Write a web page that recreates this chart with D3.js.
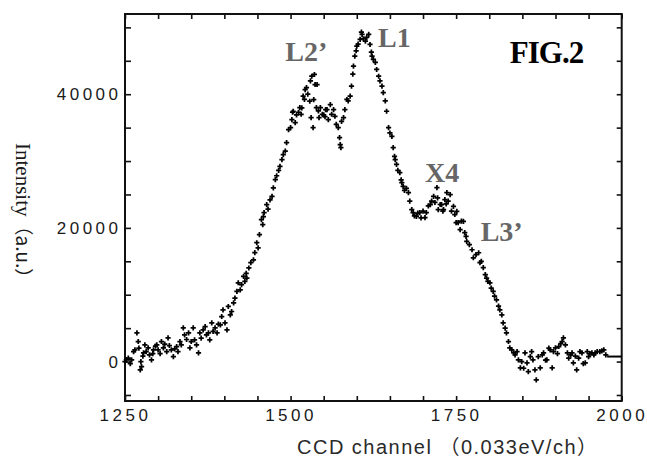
<!DOCTYPE html>
<html>
<head>
<meta charset="utf-8">
<script src="https://cdn.jsdelivr.net/npm/d3@7"></script>
<style>
    html, body { margin: 0; padding: 0; background: #fff; }
    svg { display: block; }
    .tick-label { font-family: "Liberation Sans", Arial, sans-serif; font-size: 17px; fill: #1a1a1a; letter-spacing: 3.5px; }
    .peak { font-family: "Liberation Serif", "Times New Roman", serif; font-weight: bold; font-size: 28px; fill: #666; }
</style>
</head>
<body>
<svg id="chart" width="647" height="461"></svg>
<script>
// spectrum, [CCD channel, intensity]
const baseLeft = [
    [1250, 0], [1252, 300], [1255, 500], [1258, -300], [1260, 250], [1263, 1500], [1265, 1750],
    [1268, 4300], [1270, 3000], [1271, 2000], [1273, -1240], [1274, 0], [1275, -750], [1277, 800],
    [1278, 1300], [1280, 2500], [1282, 1500], [1285, 2050], [1287, 1000], [1290, 250], [1292, 1200],
    [1293, 1750], [1296, 2300], [1298, 2500], [1300, 1750], [1303, 1200], [1305, 3000], [1308, 2050],
    [1310, 2600], [1313, 1500], [1315, 3550], [1317, 2400], [1320, 1750], [1323, 750], [1325, 1900],
    [1328, 2250], [1330, 1500], [1333, 3000], [1335, 2500], [1338, 5050], [1340, 4000], [1343, 3300],
    [1346, 4300], [1348, 2050], [1350, 3000], [1353, 5050], [1355, 3250], [1358, 2500], [1361, 1300],
    [1363, 4300], [1365, 3500], [1368, 4750], [1371, 5240], [1373, 4000], [1376, 4300], [1378, 3250],
    [1381, 5800], [1383, 4500], [1386, 5050], [1389, 4300], [1391, 5600], [1394, 5500], [1396, 6740],
    [1398, 7740], [1401, 5800], [1404, 4750], [1406, 8240], [1409, 7000], [1411, 7490], [1414, 8790]
];

const riseL2 = [
    [1416, 9500], [1419, 10490], [1421, 11790], [1424, 10740], [1426, 11500], [1429, 12730], [1431, 12000],
    [1433, 13200], [1434, 12500], [1437, 14000], [1440, 14800], [1444, 15230], [1446, 16300], [1449, 17780],
    [1451, 17000], [1453, 19000], [1456, 21230], [1458, 20500], [1459, 21700], [1460, 22300], [1464, 23470],
    [1466, 22800], [1469, 24200], [1472, 24720], [1474, 26000], [1477, 27220], [1479, 27800], [1482, 28600],
    [1484, 29210], [1487, 30200], [1489, 30960], [1492, 31500], [1494, 32760], [1497, 34700], [1500, 35000],
    [1502, 36210], [1503, 37300], [1504, 37450], [1507, 35760], [1509, 36900], [1512, 37300], [1514, 38000],
    [1516, 37000], [1517, 37950], [1519, 39700], [1521, 39210], [1522, 40700], [1524, 41000], [1526, 40000],
    [1529, 38950], [1530, 42000], [1531, 36500], [1532, 42690], [1534, 35010], [1535, 39200], [1536, 42950],
    [1537, 41450], [1539, 38000], [1540, 41450], [1542, 37500], [1543, 36510], [1545, 38000], [1548, 37000],
    [1550, 36900], [1552, 36630], [1553, 37700], [1555, 37700], [1557, 36200], [1560, 38450], [1562, 37000],
    [1565, 37700], [1567, 36700], [1569, 35500], [1572, 35010], [1574, 33500], [1575, 32460], [1576, 32000]
];

const peakL1 = [
    [1577, 35950], [1580, 36500], [1582, 37700], [1585, 39210], [1587, 39000], [1590, 39700], [1592, 41200],
    [1594, 43000], [1595, 44190], [1597, 45690], [1599, 46500], [1600, 47190], [1602, 47500], [1605, 48190],
    [1607, 49300], [1608, 48940], [1610, 48300], [1613, 47940], [1615, 48500], [1618, 48940], [1620, 47440],
    [1622, 46300], [1623, 45690], [1625, 45200], [1628, 44750], [1630, 43700], [1633, 42690], [1635, 42000],
    [1638, 41200], [1640, 40250], [1643, 39000], [1645, 37450], [1648, 35010], [1650, 34200], [1653, 33700],
    [1655, 32010], [1657, 30710], [1658, 30220], [1660, 29500], [1662, 28600], [1665, 28270], [1667, 27200],
    [1668, 26770], [1670, 26210], [1672, 25600], [1675, 25900], [1678, 25270], [1680, 24000]
];

const shoulderX4 = [
    [1683, 22730], [1685, 22280], [1687, 21800], [1690, 21720], [1692, 22200], [1695, 22280], [1697, 21500],
    [1700, 22500], [1703, 21530], [1705, 22300], [1708, 23300], [1711, 23470], [1713, 24000], [1716, 24720],
    [1718, 23800], [1721, 26020], [1722, 24500], [1723, 22730], [1726, 23500], [1728, 23470], [1730, 22500],
    [1731, 22730], [1733, 24220], [1735, 23600], [1736, 25270], [1738, 24000], [1741, 24970], [1743, 22500],
    [1746, 23220], [1748, 22000], [1750, 20780], [1751, 22470], [1753, 20780]
];

const fallL3 = [
    [1756, 19730], [1758, 21000], [1761, 20970], [1763, 19280], [1765, 18730], [1766, 17980], [1770, 17500],
    [1774, 16730], [1776, 15530], [1780, 16000], [1784, 16280], [1786, 14790], [1788, 15000], [1791, 14040],
    [1794, 13000], [1796, 12500], [1798, 12000], [1801, 11790], [1803, 11000], [1806, 10490], [1808, 9800],
    [1811, 9240], [1814, 8300], [1816, 7740], [1819, 7000], [1821, 5800], [1824, 5000], [1826, 4300],
    [1829, 3000], [1831, 2050], [1834, 1750]
];

const baseRight = [
    [1837, 1300], [1839, 1000], [1842, 1500], [1844, 250], [1847, -940], [1849, 0], [1852, -1000],
    [1854, 1300], [1857, -200], [1859, -1500], [1862, 750], [1864, 1500], [1866, 250], [1869, -1240],
    [1871, -2740], [1874, 750], [1877, -940], [1880, 1000], [1882, 1300], [1885, 200], [1887, 250],
    [1890, 2000], [1892, 1750], [1895, -940], [1897, 1500], [1900, 2050], [1903, 1200], [1905, 2250],
    [1908, 2700], [1910, 3000], [1912, 3550], [1915, 2500], [1918, 1300], [1920, 500], [1923, 1000],
    [1925, 1300], [1927, -200], [1930, 800], [1932, -1240], [1935, 500], [1937, 1500], [1940, 1300],
    [1942, -300], [1945, -200], [1948, 1500], [1950, 750], [1952, 1200], [1955, 1300], [1958, 1000],
    [1960, 1300], [1963, 1500], [1967, 1500], [1970, 1600], [1973, 1750], [1976, 1000]
];

// flat end of the trace, drawn as a short line
const tailLine = [[1978, 750], [2000, 750]];

const xDomain = [1250, 2000];
const yDomain = [-5900, 52000];
const xTickLabels = [1250, 1500, 1750, 2000];
const yTickLabels = [0, 20000, 40000];

const peakLabels = [
    {text: 'L2\u2019', ch: 1492, val: 44900},
    {text: 'L1', ch: 1632, val: 47100},
    {text: 'X4', ch: 1703, val: 26900},
    {text: 'L3\u2019', ch: 1787, val: 18000}
];

var margin = {top: 14, right: 25.3, bottom: 60, left: 125};
var width = 647 - margin.left - margin.right;
var height = 461 - margin.top - margin.bottom;

var svg = d3.select('#chart');
var g = svg.append('g')
    .attr('transform', 'translate(' + margin.left + ',' + margin.top + ')');

var x = d3.scaleLinear().domain(xDomain).range([0, width]);
var y = d3.scaleLinear().domain(yDomain).range([height, 0]);

var xTicks = d3.range(1250, 2001, 50);
var yTicks = d3.range(-5000, 50001, 5000);

// ticks point inwards on all four sides
g.append('g')
    .attr('transform', 'translate(0,' + height + ')')
    .call(d3.axisBottom(x).tickValues(xTicks).tickSizeInner(-5).tickSizeOuter(0).tickPadding(8)
        .tickFormat(d => xTickLabels.includes(d) ? d : ''));

g.append('g')
    .call(d3.axisLeft(y).tickValues(yTicks).tickSizeInner(-6).tickSizeOuter(0).tickPadding(3.5)
        .tickFormat(d => yTickLabels.includes(d) ? String(d) : ''));

g.append('g')
    .call(d3.axisTop(x).tickValues(xTicks).tickSizeInner(-5).tickSizeOuter(0).tickFormat(''));

g.append('g')
    .attr('transform', 'translate(' + width + ',0)')
    .call(d3.axisRight(y).tickValues(yTicks).tickSizeInner(-5).tickSizeOuter(0).tickFormat(''));

g.selectAll('.domain').remove();
g.selectAll('.tick line').attr('stroke', '#111').attr('stroke-width', 1.6);
g.selectAll('.tick text').attr('class', 'tick-label');

g.append('rect')
    .attr('width', width)
    .attr('height', height)
    .attr('fill', 'none')
    .attr('stroke', '#111')
    .attr('stroke-width', 2);

// data marks
var points = [].concat(baseLeft, riseL2, peakL1, shoulderX4, fallL3, baseRight);
var cross = d3.symbol().type(d3.symbolCross).size(15);

g.append('g')
    .selectAll('path')
    .data(points)
    .join('path')
    .attr('transform', d => 'translate(' + x(d[0]) + ',' + y(d[1]) + ')')
    .attr('d', cross)
    .attr('fill', '#000');

g.append('path')
    .datum(tailLine)
    .attr('d', d3.line().x(d => x(d[0])).y(d => y(d[1])))
    .attr('fill', 'none')
    .attr('stroke', '#000')
    .attr('stroke-width', 2);

g.selectAll('.peak')
    .data(peakLabels)
    .join('text')
    .attr('class', 'peak')
    .attr('x', d => x(d.ch))
    .attr('y', d => y(d.val))
    .text(d => d.text);

g.append('text')
    .attr('x', x(1831))
    .attr('y', y(44700))
    .attr('font-family', '"Liberation Serif", "Times New Roman", serif')
    .attr('font-weight', 'bold')
    .attr('font-size', 31)
    .attr('letter-spacing', -1)
    .attr('fill', '#000')
    .text('FIG.2');

// axis titles
svg.append('text')
    .attr('x', 297)
    .attr('y', 454)
    .attr('textLength', 300)
    .attr('lengthAdjust', 'spacing')
    .attr('font-family', '"Liberation Sans", Arial, "Noto Sans CJK SC", sans-serif')
    .attr('font-size', 20)
    .attr('fill', '#2a2a2a')
    .text('CCD channel \uff080.033eV/ch\uff09');

var yTitle = svg.append('text')
    .attr('transform', 'translate(16,143) rotate(90)')
    .attr('font-size', 21)
    .attr('fill', '#1a1a1a');

yTitle.append('tspan')
    .attr('font-family', '"Liberation Serif", "Times New Roman", serif')
    .text('Intensity');

yTitle.append('tspan')
    .attr('font-family', '"Noto Sans CJK SC", "Liberation Sans", sans-serif')
    .attr('font-size', 19)
    .text('\uff08a.u.\uff09');
</script>
</body>
</html>
